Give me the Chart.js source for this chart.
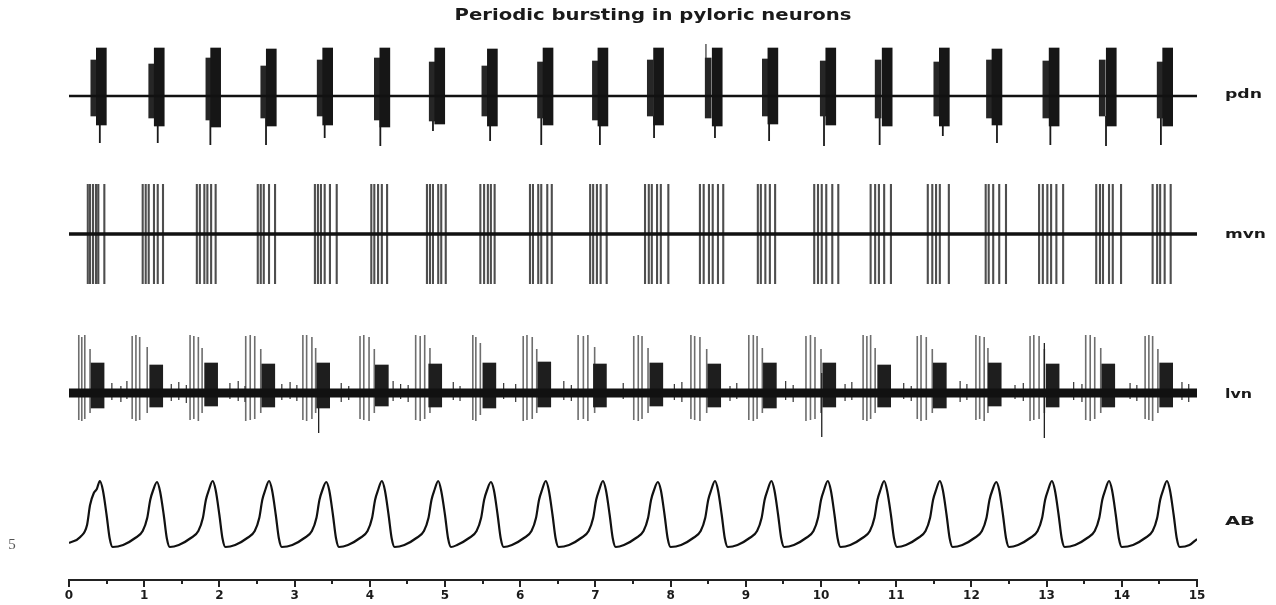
<!DOCTYPE html>
<html><head><meta charset="utf-8">
<script src="https://cdn.jsdelivr.net/npm/chart.js@4.4.1/dist/chart.umd.min.js"></script>
<style>html,body{margin:0;padding:0;background:#fff;}canvas{display:block}</style>
</head><body>
<canvas id="c" width="1276" height="605"></canvas>
<script>
// ---------------- data (time in s, amplitudes relative to each trace's baseline) ----------------
const titleText = 'Periodic bursting in pyloric neurons';
const traceNames = ['pdn', 'mvn', 'lvn', 'AB'];
const scaleLabel = '5';
const xTicks = [0,1,2,3,4,5,6,7,8,9,10,11,12,13,14,15];
const xMinorTicks = [0.5,1.5,2.5,3.5,4.5,5.5,6.5,7.5,8.5,9.5,10.5,11.5,12.5,13.5,14.5];
const baseSpan = [0, 15];

// pdn bursts: dense core + earlier, shorter onset part + downward tail spikes
const pdnCoreT   = [0.43,1.20,1.95,2.69,3.44,4.20,4.93,5.63,6.37,7.10,7.84,8.62,9.36,10.13,10.88,11.64,12.34,13.10,13.86,14.61];
const pdnCoreTop = [48,48,48,47,48,48,48,47,48,48,48,48,48,48,48,48,47,48,48,48];
const pdnCoreBot = [-29,-30,-31,-30,-29,-31,-28,-30,-29,-30,-29,-30,-28,-29,-30,-30,-29,-30,-30,-30];
const pdnLeadT   = [0.33,1.10,1.86,2.59,3.34,4.10,4.83,5.53,6.27,7.00,7.73,8.50,9.26,10.03,10.76,11.54,12.24,12.99,13.74,14.51];
const pdnLeadTop = [36,32,38,30,36,38,34,30,34,35,36,38,37,35,36,34,36,35,36,34];
const pdnLeadBot = [-20,-22,-24,-22,-20,-24,-25,-20,-22,-24,-20,-22,-20,-20,-22,-20,-22,-22,-20,-22];
const pdnTailT   = [0.41,1.18,1.88,2.62,3.40,4.14,4.84,5.60,6.28,7.06,7.78,8.59,9.31,10.04,10.78,11.62,12.34,13.05,13.79,14.52];
const pdnTailLo  = [-47,-47,-49,-49,-42,-50,-35,-45,-49,-49,-42,-42,-45,-50,-49,-40,-47,-49,-50,-49];
const pdnTailHi  = [-20,-20,-20,-20,-20,-20,-20,-20,-20,-20,-20,-20,-20,-20,-20,-20,-20,-20,-20,-20];
const pdnTallT = [8.47], pdnTallHi = [52], pdnTallLo = [0];

// mvn spike times per burst, common spike extent
const mvnBursts = [
  [0.25,0.28,0.32,0.36,0.39,0.47],
  [0.98,1.02,1.06,1.13,1.18,1.25],
  [1.70,1.74,1.80,1.84,1.89,1.95],
  [2.51,2.55,2.59,2.66,2.74],
  [3.27,3.31,3.35,3.40,3.47,3.56],
  [4.02,4.06,4.11,4.16,4.23],
  [4.76,4.80,4.84,4.91,4.95,5.01],
  [5.47,5.52,5.57,5.61,5.66],
  [6.13,6.17,6.24,6.28,6.36,6.42],
  [6.93,6.97,7.02,7.07,7.15],
  [7.66,7.71,7.75,7.82,7.87,7.97],
  [8.39,8.44,8.51,8.56,8.63,8.70],
  [9.16,9.20,9.26,9.32,9.39],
  [9.91,9.96,10.01,10.07,10.15,10.23],
  [10.66,10.72,10.77,10.84,10.93],
  [11.42,11.48,11.53,11.58,11.70],
  [12.19,12.23,12.29,12.37,12.46],
  [12.90,12.95,13.01,13.06,13.13,13.22],
  [13.66,13.71,13.75,13.83,13.88,13.99],
  [14.41,14.47,14.51,14.57,14.65]
];
const mvnSpikeHi = 50, mvnSpikeLo = -50;

// lvn: tall (LP) spikes per burst, dense (PY) block, long spikes, small noise
const lvnTallT = [
  [0.13,0.17,0.21,0.28],[0.84,0.89,0.94,1.04],[1.61,1.66,1.72,1.77],[2.35,2.41,2.47,2.55],
  [3.11,3.16,3.23,3.28],[3.87,3.92,3.99,4.06],[4.61,4.67,4.73,4.80],[5.37,5.41,5.47],
  [6.04,6.09,6.16,6.22],[6.77,6.84,6.90,6.99],[7.51,7.57,7.62,7.70],[8.27,8.32,8.39,8.48],
  [9.04,9.10,9.15,9.22],[9.80,9.86,9.92,10.00],[10.56,10.61,10.66,10.72],[11.28,11.33,11.40,11.48],
  [12.06,12.11,12.17,12.22],[12.78,12.83,12.90,12.97],[13.52,13.58,13.64,13.72],[14.31,14.36,14.41,14.48]
];
const lvnTallHi = [
  [58,56,58,44],[57,58,56,46],[58,57,56,45],[57,58,57,44],[58,58,56,45],[57,58,56,44],[58,57,58,45],[58,56,50],
  [57,58,56,44],[58,57,58,46],[57,58,57,45],[58,57,56,44],[58,58,57,45],[57,58,56,44],[58,57,58,45],[57,58,56,44],
  [58,57,56,45],[57,58,57,44],[58,58,56,45],[57,58,57,44]
];
const lvnTallLo = [
  [-27,-28,-26,-20],[-26,-28,-27,-20],[-27,-26,-28,-20],[-28,-27,-26,-20],[-27,-28,-26,-20],[-26,-27,-28,-20],[-27,-28,-26,-20],[-27,-28,-22],
  [-28,-27,-26,-20],[-27,-26,-28,-20],[-27,-28,-26,-20],[-26,-27,-28,-20],[-27,-28,-26,-20],[-28,-27,-26,-20],[-27,-28,-26,-20],[-26,-28,-27,-20],
  [-27,-26,-28,-20],[-28,-27,-26,-20],[-27,-28,-26,-20],[-26,-27,-28,-20]
];
const lvnBlockT  = [0.38,1.16,1.89,2.65,3.38,4.16,4.87,5.59,6.32,7.06,7.81,8.58,9.32,10.11,10.84,11.58,12.31,13.08,13.82,14.59];
const lvnBlockHi = [30,28,30,29,30,28,29,30,31,29,30,29,30,30,28,30,30,29,29,30];
const lvnBlockLo = [-15,-14,-13,-14,-15,-13,-14,-15,-14,-14,-13,-14,-15,-14,-14,-15,-13,-14,-14,-14];
const lvnLongT = [3.32,10.01,12.97], lvnLongHi = [20,20,50], lvnLongLo = [-40,-44,-45];
const lvnNoiseT  = [0.57,0.69,0.77,1.36,1.46,1.56,2.14,2.25,2.34,2.83,2.94,3.03,3.62,3.72,4.31,4.41,4.51,5.11,5.20,5.78,5.94,6.58,
                    6.68,7.37,8.05,8.15,8.79,8.88,9.53,9.63,10.32,10.41,11.10,11.20,11.85,11.94,12.58,12.69,13.36,13.47,14.11,14.20,14.80,14.89];
const lvnNoiseHi = [10,7,12,9,11,8,10,12,7,9,11,8,10,7,12,9,8,11,7,10,9,12,
                    8,10,9,11,7,10,12,8,9,11,10,7,12,9,8,10,11,9,10,8,11,9];
const lvnNoiseLo = [-7,-9,-6,-8,-7,-10,-6,-8,-9,-7,-6,-8,-9,-7,-8,-6,-9,-7,-8,-6,-9,-7,
                    -8,-6,-7,-9,-8,-6,-7,-9,-8,-7,-6,-8,-9,-7,-6,-8,-7,-9,-6,-8,-7,-9];

// AB membrane potential (relative to trough)
const abT = [
  0.00,0.15,0.24,0.28,0.33,0.37,0.41,0.45,0.50,0.54,0.58,
  0.72,0.88,0.98,1.04,1.08,1.12,1.17,1.21,1.26,1.30,1.34,
  1.46,1.62,1.72,1.78,1.82,1.86,1.91,1.95,2.00,2.04,2.08,
  2.21,2.37,2.47,2.53,2.57,2.61,2.66,2.70,2.75,2.79,2.83,
  2.97,3.13,3.23,3.29,3.33,3.37,3.42,3.46,3.51,3.55,3.59,
  3.71,3.87,3.97,4.03,4.07,4.11,4.16,4.20,4.25,4.29,4.33,
  4.46,4.62,4.72,4.78,4.82,4.86,4.91,4.95,5.00,5.04,5.08,
  5.16,5.32,5.42,5.48,5.52,5.56,5.61,5.65,5.70,5.74,5.78,
  5.89,6.05,6.15,6.21,6.25,6.29,6.34,6.38,6.43,6.47,6.51,
  6.65,6.81,6.91,6.97,7.01,7.05,7.10,7.14,7.19,7.23,7.27,
  7.38,7.54,7.64,7.70,7.74,7.78,7.83,7.87,7.92,7.96,8.00,
  8.14,8.30,8.40,8.46,8.50,8.54,8.59,8.63,8.68,8.72,8.76,
  8.89,9.05,9.15,9.21,9.25,9.29,9.34,9.38,9.43,9.47,9.51,
  9.64,9.80,9.90,9.96,10.00,10.04,10.09,10.13,10.18,10.22,10.26,
  10.39,10.55,10.65,10.71,10.75,10.79,10.84,10.88,10.93,10.97,11.01,
  11.13,11.29,11.39,11.45,11.49,11.53,11.58,11.62,11.67,11.71,11.75,
  11.88,12.04,12.14,12.20,12.24,12.28,12.33,12.37,12.42,12.46,12.50,
  12.62,12.78,12.88,12.94,12.98,13.02,13.07,13.11,13.16,13.20,13.24,
  13.38,13.54,13.64,13.70,13.74,13.78,13.83,13.87,13.92,13.96,14.00,
  14.15,14.31,14.41,14.47,14.51,14.55,14.60,14.64,14.69,14.73,14.77,
  14.90,15.00
];
const abV = [
  4,10,22,42,54,58,66,57,32,9,0,
  2,9,16,29,47,57,65,56,32,9,0,
  2,9,16,29,47,57,66,57,32,9,0,
  2,9,16,29,47,57,66,57,32,9,0,
  2,9,16,29,47,57,65,57,32,9,0,
  2,9,16,29,47,57,66,57,32,9,0,
  2,9,16,29,47,57,66,56,32,9,0,
  2,9,16,29,47,57,65,57,32,9,0,
  2,9,16,29,47,57,66,57,32,9,0,
  2,9,16,29,47,57,66,57,32,9,0,
  2,9,16,29,47,57,65,57,32,9,0,
  2,9,16,29,47,57,66,57,32,9,0,
  2,9,16,29,47,57,66,57,32,9,0,
  2,9,16,29,47,57,66,57,32,9,0,
  2,9,16,29,47,57,66,56,32,9,0,
  2,9,16,29,47,57,66,57,32,9,0,
  2,9,16,29,47,57,65,57,32,9,0,
  2,9,16,29,47,57,66,57,32,9,0,
  2,9,16,29,47,57,66,57,32,9,0,
  2,9,16,29,47,57,66,57,32,9,0,
  2,8
];

// ---------------- layout (trace offsets in chart units) ----------------
const OFF = { pdn: 484, mvn: 346, lvn: 187, AB: 33 };

function segs(ts, his, los, off) {
  const out = [];
  ts.forEach((t, i) => {
    const hi = Array.isArray(his) ? his[i] : his;
    const lo = Array.isArray(los) ? los[i] : los;
    out.push({ x: t, y: off + hi }, { x: t, y: off + lo }, { x: t, y: null });
  });
  return out;
}
function bars(ts, his, los, off) {
  return ts.map((t, i) => ({ x: t, y: [off + los[i], off + his[i]] }));
}
function baseline(off) { return baseSpan.map(t => ({ x: t, y: off })); }

const segStyle = (color, w, order) => ({ type: 'line', borderColor: color, borderWidth: w, pointRadius: 0,
  spanGaps: false, borderCapStyle: 'butt', order: order, fill: false, tension: 0 });
const barStyle = (color, w, order) => ({ type: 'bar', backgroundColor: color, borderWidth: 0,
  barThickness: w, maxBarThickness: w, grouped: false, order: order });

const datasets = [
  Object.assign({ label: 'pdn base', data: baseline(OFF.pdn) }, segStyle('#111', 2.6, 1)),
  Object.assign({ label: 'mvn base', data: baseline(OFF.mvn) }, segStyle('#111', 3.4, 1)),
  Object.assign({ label: 'lvn base', data: baseline(OFF.lvn) }, segStyle('#111', 9, 1)),
  Object.assign({ label: 'AB', data: abT.map((t, i) => ({ x: t, y: OFF.AB + abV[i] })) },
    segStyle('#111', 2.2, 1), { cubicInterpolationMode: 'monotone' }),
  Object.assign({ label: 'pdn core', data: bars(pdnCoreT, pdnCoreTop, pdnCoreBot, OFF.pdn) }, barStyle('#161616', 10, 3)),
  Object.assign({ label: 'pdn lead', data: bars(pdnLeadT, pdnLeadTop, pdnLeadBot, OFF.pdn) }, barStyle('#262626', 6, 3)),
  Object.assign({ label: 'pdn tails', data: segs(pdnTailT, pdnTailHi, pdnTailLo, OFF.pdn) }, segStyle('#1a1a1a', 1.8, 3)),
  Object.assign({ label: 'pdn tall', data: segs(pdnTallT, pdnTallHi, pdnTallLo, OFF.pdn) }, segStyle('#333', 1.2, 3)),
  Object.assign({ label: 'mvn spikes', data: segs(mvnBursts.flat(), mvnSpikeHi, mvnSpikeLo, OFF.mvn) }, segStyle('#4e4e4e', 2.1, 5)),
  Object.assign({ label: 'lvn tall', data: segs(lvnTallT.flat(), lvnTallHi.flat(), lvnTallLo.flat(), OFF.lvn) }, segStyle('#6e6e6e', 1.6, 5)),
  Object.assign({ label: 'lvn block', data: bars(lvnBlockT, lvnBlockHi, lvnBlockLo, OFF.lvn) }, barStyle('#1e1e1e', 13, 3)),
  Object.assign({ label: 'lvn long', data: segs(lvnLongT, lvnLongHi, lvnLongLo, OFF.lvn) }, segStyle('#222', 1.3, 3)),
  Object.assign({ label: 'lvn noise', data: segs(lvnNoiseT, lvnNoiseHi, lvnNoiseLo, OFF.lvn) }, segStyle('#333', 1.2, 4))
];

function drawStretched(c, text, x, y, font, targetW, align) {
  c.save();
  c.font = font;
  const w = c.measureText(text).width;
  c.translate(x, y);
  c.scale(targetW / w, 1);
  c.textAlign = align;
  c.textBaseline = 'alphabetic';
  c.fillText(text, 0, 0);
  c.restore();
}

const textPlugin = {
  id: 'texts',
  afterDraw(chart) {
    const c = chart.ctx, xs = chart.scales.x, ys = chart.scales.y;
    c.fillStyle = '#1a1a1a';
    drawStretched(c, titleText, 653, 20, 'bold 16px "DejaVu Sans"', 397, 'center');
    const labelY = { pdn: 98, mvn: 238, lvn: 398, AB: 525 };
    const labelW = { pdn: 37, mvn: 41, lvn: 27, AB: 30 };
    traceNames.forEach(n => {
      drawStretched(c, n, 1225, labelY[n], (n === 'AB' ? 'bold 13px' : 'bold 12px') + ' "DejaVu Sans"', labelW[n], 'left');
    });
    c.save();
    c.fillStyle = '#555';
    c.font = '15px "Liberation Serif"';
    c.textAlign = 'center';
    c.textBaseline = 'middle';
    c.fillText(scaleLabel, 12, 545);
    c.restore();
    // minor ticks
    c.save();
    c.strokeStyle = '#222';
    c.lineWidth = 2;
    const yb = ys.getPixelForValue(0);
    xMinorTicks.forEach(v => {
      const px = Math.round(xs.getPixelForValue(v));
      c.beginPath(); c.moveTo(px, yb + 1); c.lineTo(px, yb + 4); c.stroke();
    });
    c.restore();
  }
};

new Chart(document.getElementById('c').getContext('2d'), {
  type: 'line',
  data: { datasets },
  options: {
    responsive: false,
    animation: false,
    events: [],
    layout: { padding: { left: 69, right: 79, top: 30, bottom: 0 } },
    plugins: { legend: { display: false }, tooltip: { enabled: false }, title: { display: false } },
    elements: { point: { radius: 0 } },
    scales: {
      x: {
        type: 'linear', min: 0, max: 15, offset: false,
        afterBuildTicks: s => { s.ticks = xTicks.map(v => ({ value: v })); },
        ticks: { autoSkip: false, maxRotation: 0, padding: 2, color: '#1a1a1a',
          font: { family: 'DejaVu Sans', weight: 'bold', size: 12 } },
        grid: { offset: false, drawOnChartArea: false, drawTicks: true, tickLength: 7, color: '#222', lineWidth: 2 },
        border: { display: true, color: '#222', width: 2 },
        afterFit: s => { s.height = 25; }
      },
      y: { type: 'linear', display: false, min: 0, max: 550 }
    }
  },
  plugins: [textPlugin]
});
</script>
</body></html>
